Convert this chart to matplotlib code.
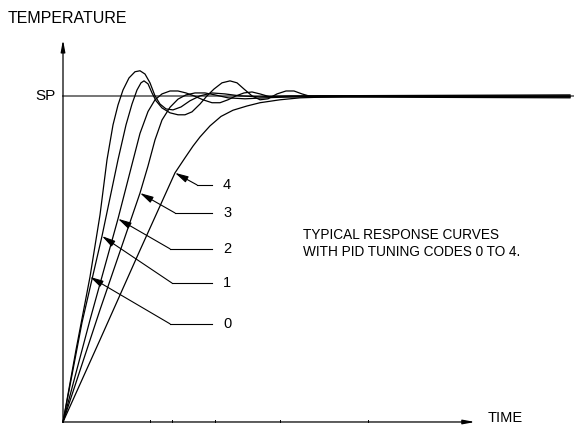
import matplotlib
matplotlib.use("Agg")
import matplotlib.pyplot as plt

plt.rcParams['font.family'] = ['Liberation Sans', 'DejaVu Sans']

# response curves: time (arbitrary units) vs temperature (% of set point)
t0 = [0, 1.3, 2.7, 3.7, 4.4, 5.0, 5.5, 6.0, 6.6, 7.2, 7.7, 8.2, 8.7, 9.2, 9.7, 10.3, 11.0,
      11.8, 12.7, 13.7, 14.9, 16.2, 17.7, 19.7, 22.7, 50.7]
y0 = [0, 22.1, 44.5, 63.5, 80.4, 91.1, 97.2, 101.8, 105.5, 107.4, 107.7, 106.7, 104.0, 100.0,
      97.5, 96.0, 95.7, 96.6, 98.5, 100.0, 100.9, 100.6, 100.0, 99.7, 100.0, 100.3]

t1 = [0, 1.9, 3.9, 5.5, 6.3, 6.9, 7.4, 7.8, 8.1, 8.5, 8.9, 9.3, 9.9, 10.7, 11.5, 12.2, 12.9,
      13.7, 14.4, 15.1, 15.9, 16.7, 17.4, 18.1, 18.9, 19.7, 20.5, 21.4, 22.3, 23.1, 23.9,
      24.9, 26.7, 29.7, 50.7]
y1 = [0, 30.5, 57.0, 80.4, 91.1, 97.5, 101.8, 104.0, 104.6, 103.7, 100.9, 98.5, 96.3, 94.8,
      94.2, 94.2, 95.1, 97.5, 100.0, 102.1, 104.0, 104.6, 104.0, 102.1, 100.0, 98.8, 99.1,
      100.6, 101.5, 101.5, 100.6, 99.7, 99.7, 100.0, 100.0]

t2 = [0, 2.7, 5.5, 6.9, 7.7, 8.5, 9.2, 9.9, 10.7, 11.5, 12.3, 13.1, 14.0, 14.9, 15.7, 16.5,
      17.3, 18.1, 18.9, 19.7, 20.7, 22.7, 25.7, 50.7]
y2 = [0, 31.3, 62.3, 79.0, 88.5, 95.2, 98.8, 100.6, 101.5, 101.5, 100.9, 100.0, 98.8, 97.9,
      97.9, 98.8, 100.0, 100.9, 101.2, 100.6, 99.7, 99.7, 100.0, 99.7]

t3 = [0, 3.7, 7.7, 8.5, 9.2, 9.9, 10.7, 11.5, 12.3, 13.2, 14.2, 15.2, 16.5, 18.2, 20.2, 22.7, 50.7]
y3 = [0, 34.4, 70.2, 78.5, 86.5, 92.6, 96.5, 99.0, 100.3, 100.9, 100.9, 100.3, 99.4, 99.1,
      99.4, 99.7, 99.4]

t4 = [0, 3.7, 7.6, 11.2, 12.2, 13.0, 13.7, 14.7, 15.8, 17.0, 18.4, 19.7, 21.7, 23.7, 26.7, 31.7, 50.7]
y4 = [0, 25.2, 52.0, 76.4, 81.0, 84.6, 87.4, 90.8, 93.7, 95.6, 96.9, 97.9, 98.8, 99.4, 99.7,
      99.8, 99.7]

curves = [(t0, y0), (t1, y1), (t2, y2), (t3, y3), (t4, y4)]
codes = ['0', '1', '2', '3', '4']
tip_index = [2, 2, 2, 2, 3]          # point on each curve the leader arrow touches
set_point = 100
time_ticks = [8.7, 10.9, 15.2, 21.7, 30.5]

fig = plt.figure(figsize=(5.74, 4.26), dpi=100)
ax = fig.add_axes([0, 0, 1, 1])
ax.set_xlim(-6.3, 51.1)
ax.set_ylim(-1.23, 129.4)
ax.axis('off')

# set point line
ax.plot([0, 51.1], [set_point, set_point], color='#6a6a6a', lw=1.3, zorder=1)
ax.text(-0.7, set_point, 'SP', ha='right', va='center', fontsize=11)

for t, y in curves:
    ax.plot(t, y, color='black', lw=0.9, zorder=2)

# axes with arrow heads
arrow = dict(arrowstyle='-|>,head_length=0.7,head_width=0.13', color='black',
             lw=0.9, shrinkA=0, shrinkB=0, mutation_scale=10)
ax.annotate('', xy=(0, 117.2), xytext=(0, 0), arrowprops=arrow)
ax.annotate('', xy=(41.2, 0), xytext=(0, 0), arrowprops=arrow)
for tk in time_ticks:
    ax.plot([tk, tk], [0, 0.7], color='black', lw=0.7)
ax.text(-5.5, 123.6, 'TEMPERATURE', ha='left', va='center', fontsize=11.5)
ax.text(42.5, 1.3, 'TIME', ha='left', va='center', fontsize=10.5)

# leader lines to each curve
label_y = [30.1, 42.6, 53.1, 64.1, 72.7]
corner_t = [10.7, 10.9, 10.7, 11.2, 13.4]
leader = dict(arrowstyle='-|>,head_length=0.8,head_width=0.2', color='black',
              lw=0.8, shrinkA=0, shrinkB=0, mutation_scale=10)
for (t, y), code, idx, ly, ct in zip(curves, codes, tip_index, label_y, corner_t):
    ax.plot([ct, 14.9], [ly, ly], color='black', lw=0.8)
    ax.annotate('', xy=(t[idx], y[idx]), xytext=(ct, ly), arrowprops=leader)
    ax.text(16.0, ly, code, ha='left', va='center', fontsize=10.5)

ax.text(24.0, 54.7, 'TYPICAL RESPONSE CURVES\nWITH PID TUNING CODES 0 TO 4.',
        ha='left', va='center', fontsize=9.8, linespacing=1.3)

fig.savefig('out.png', dpi=100)
